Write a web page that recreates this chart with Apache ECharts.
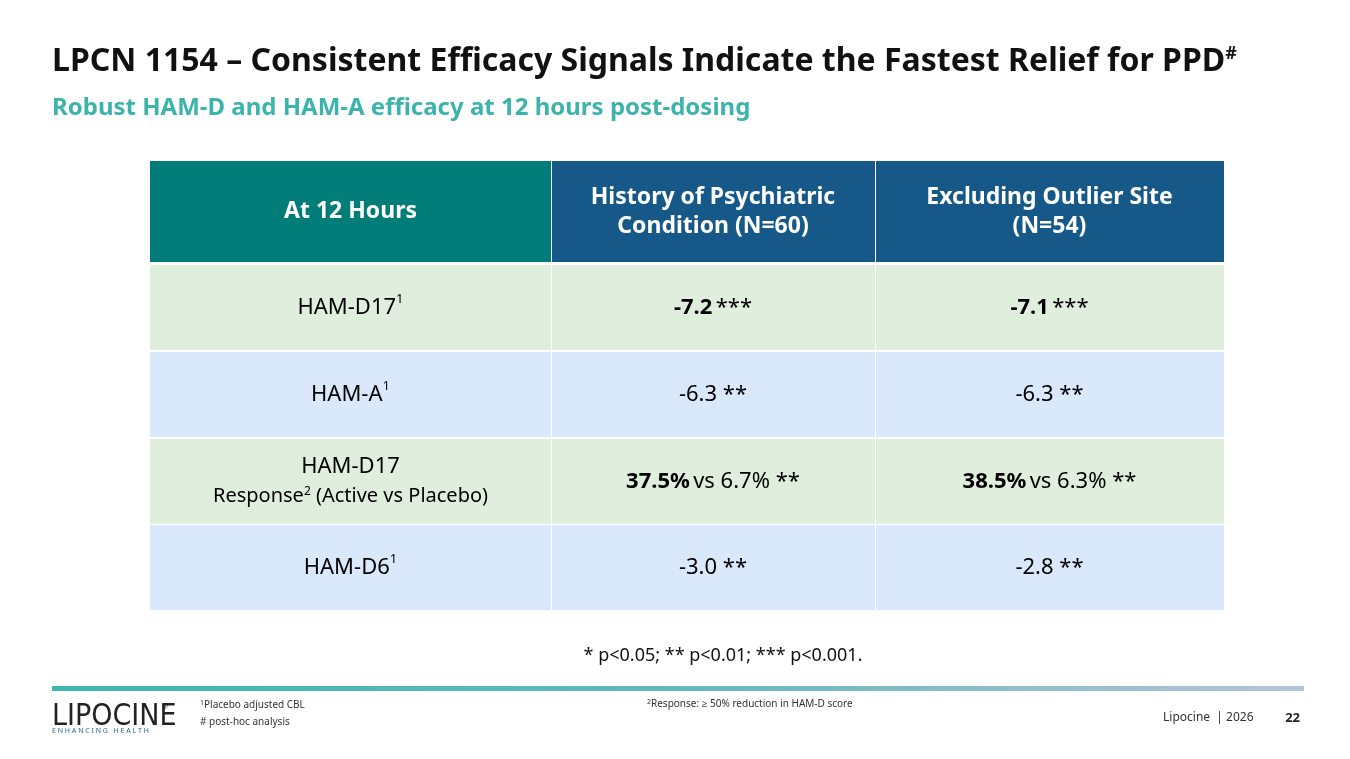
<!DOCTYPE html><html><head><meta charset="utf-8">
<script src="https://cdn.jsdelivr.net/npm/echarts@6/dist/echarts.min.js"></script>
<style>html,body{margin:0;background:#fff}#c{width:1350px;height:759px}</style></head><body><div id="c"></div>
<script>
var headers=["At 12 Hours","History of Psychiatric\nCondition (N=60)","Excluding Outlier Site\n(N=54)"];
var rowLabels=["{n|HAM-D17}{s|1}","{n|HAM-A}{s|1}","{n|HAM-D17}\n{m|Response}{s2|2}{m| (Active vs Placebo)}","{n|HAM-D6}{s|1}"];
var col1=["{b|-7.2} {n|***}","{n|-6.3 **}","{b|37.5%} {n|vs 6.7% **}","{n|-3.0 **}"];
var col2=["{b|-7.1} {n|***}","{n|-6.3 **}","{b|38.5%} {n|vs 6.3% **}","{n|-2.8 **}"];
var F="'Noto Sans','Open Sans',sans-serif";
var colX=[150,551,875,1224], headY=161, headH=101, rowY=[265,352,439,525], rowH=85;
var rowColors=["#e0eedd","#dae8fb","#e0eedd","#dae8fb"];
var headColors=["#007d79","#165888","#165888"];
var rich={n:{fontSize:22,fontFamily:F,color:"#111"},b:{fontSize:22,fontFamily:F,color:"#111",fontWeight:"bold"},
 s:{fontSize:13,fontFamily:F,color:"#111",verticalAlign:"top",padding:[0,0,8,0]},
 m:{fontSize:20,fontFamily:F,color:"#111"},s2:{fontSize:12,fontFamily:F,color:"#111",padding:[0,0,8,0]}};
var g=[];
for(var c=0;c<3;c++){
 g.push({type:'rect',shape:{x:colX[c]+(c?1:0),y:headY,width:colX[c+1]-colX[c]-(c?1:0),height:headH},style:{fill:headColors[c]}});
 g.push({type:'text',x:(colX[c]+colX[c+1])/2,y:headY+headH/2,style:{text:headers[c],fill:'#fff',font:"bold 23px "+F,align:'center',verticalAlign:'middle',lineHeight:29}});
}
var cols=[rowLabels,col1,col2];
for(var r=0;r<4;r++)for(var c=0;c<3;c++){
 g.push({type:'rect',shape:{x:colX[c]+(c?1:0),y:rowY[r],width:colX[c+1]-colX[c]-(c?1:0),height:rowH},style:{fill:rowColors[r]}});
 g.push({type:'text',x:(colX[c]+colX[c+1])/2,y:rowY[r]+rowH/2,style:{text:cols[c][r],rich:rich,align:'center',verticalAlign:'middle',lineHeight:29}});
}
g.push({type:'text',x:52,y:62,style:{text:"{t|LPCN 1154 – Consistent Efficacy Signals Indicate the Fastest Relief for PPD}{h|#}",rich:{t:{font:"bold 32px "+F,fill:'#111'},h:{font:"bold 18px "+F,fill:'#111',padding:[0,0,16,0]}},verticalAlign:'middle'}});
g.push({type:'text',x:52,y:108,style:{text:"Robust HAM-D and HAM-A efficacy at 12 hours post-dosing",font:"bold 24px "+F,fill:'#3cb4ac',verticalAlign:'middle'}});
g.push({type:'text',x:723,y:656,style:{text:"* p<0.05; ** p<0.01; *** p<0.001.",font:"18px "+F,fill:'#111',align:'center',verticalAlign:'middle'}});
g.push({type:'rect',shape:{x:52,y:686,width:1252,height:5},style:{fill:new echarts.graphic.LinearGradient(0,0,1,0,[{offset:0,color:'#3db8b0'},{offset:0.5,color:'#62b8bc'},{offset:1,color:'#b4c4d8'}])}});
g.push({type:'text',x:52,y:717,style:{text:"LIPOCINE",font:"30px 'Liberation Sans Narrow','DejaVu Sans Condensed',sans-serif",fill:'#222',verticalAlign:'middle'}});
g.push({type:'text',x:162,y:703,style:{text:"®",font:"8px sans-serif",fill:'#222'}});
g.push({type:'text',x:52,y:731,style:{text:"E N H A N C I N G   H E A L T H",font:"7px "+F,fill:'#1e6a8a',verticalAlign:'middle'}});
g.push({type:'text',x:200,y:697,style:{text:"{s|1}{t|Placebo adjusted CBL}\n{t|# post-hoc analysis}",rich:{s:{fontSize:7,fontFamily:F,fill:'#333',padding:[0,0,5,0]},t:{fontSize:10,fontFamily:F,fill:'#333'}},lineHeight:17,verticalAlign:'top'}});
g.push({type:'text',x:647,y:704,style:{text:"{s|2}{t|Response: ≥ 50% reduction in HAM-D score}",rich:{s:{fontSize:7,fontFamily:F,fill:'#333',padding:[0,0,5,0]},t:{fontSize:10,fontFamily:F,fill:'#333'}},verticalAlign:'middle'}});
g.push({type:'text',x:1163,y:718,style:{text:"Lipocine  | 2026",font:"12px "+F,fill:'#333',verticalAlign:'middle'}});
g.push({type:'text',x:1300,y:718,style:{text:"22",font:"bold 13px "+F,fill:'#222',align:'right',verticalAlign:'middle'}});
var ch=echarts.init(document.getElementById('c'));
ch.setOption({animation:false,graphic:g});
</script></body></html>
